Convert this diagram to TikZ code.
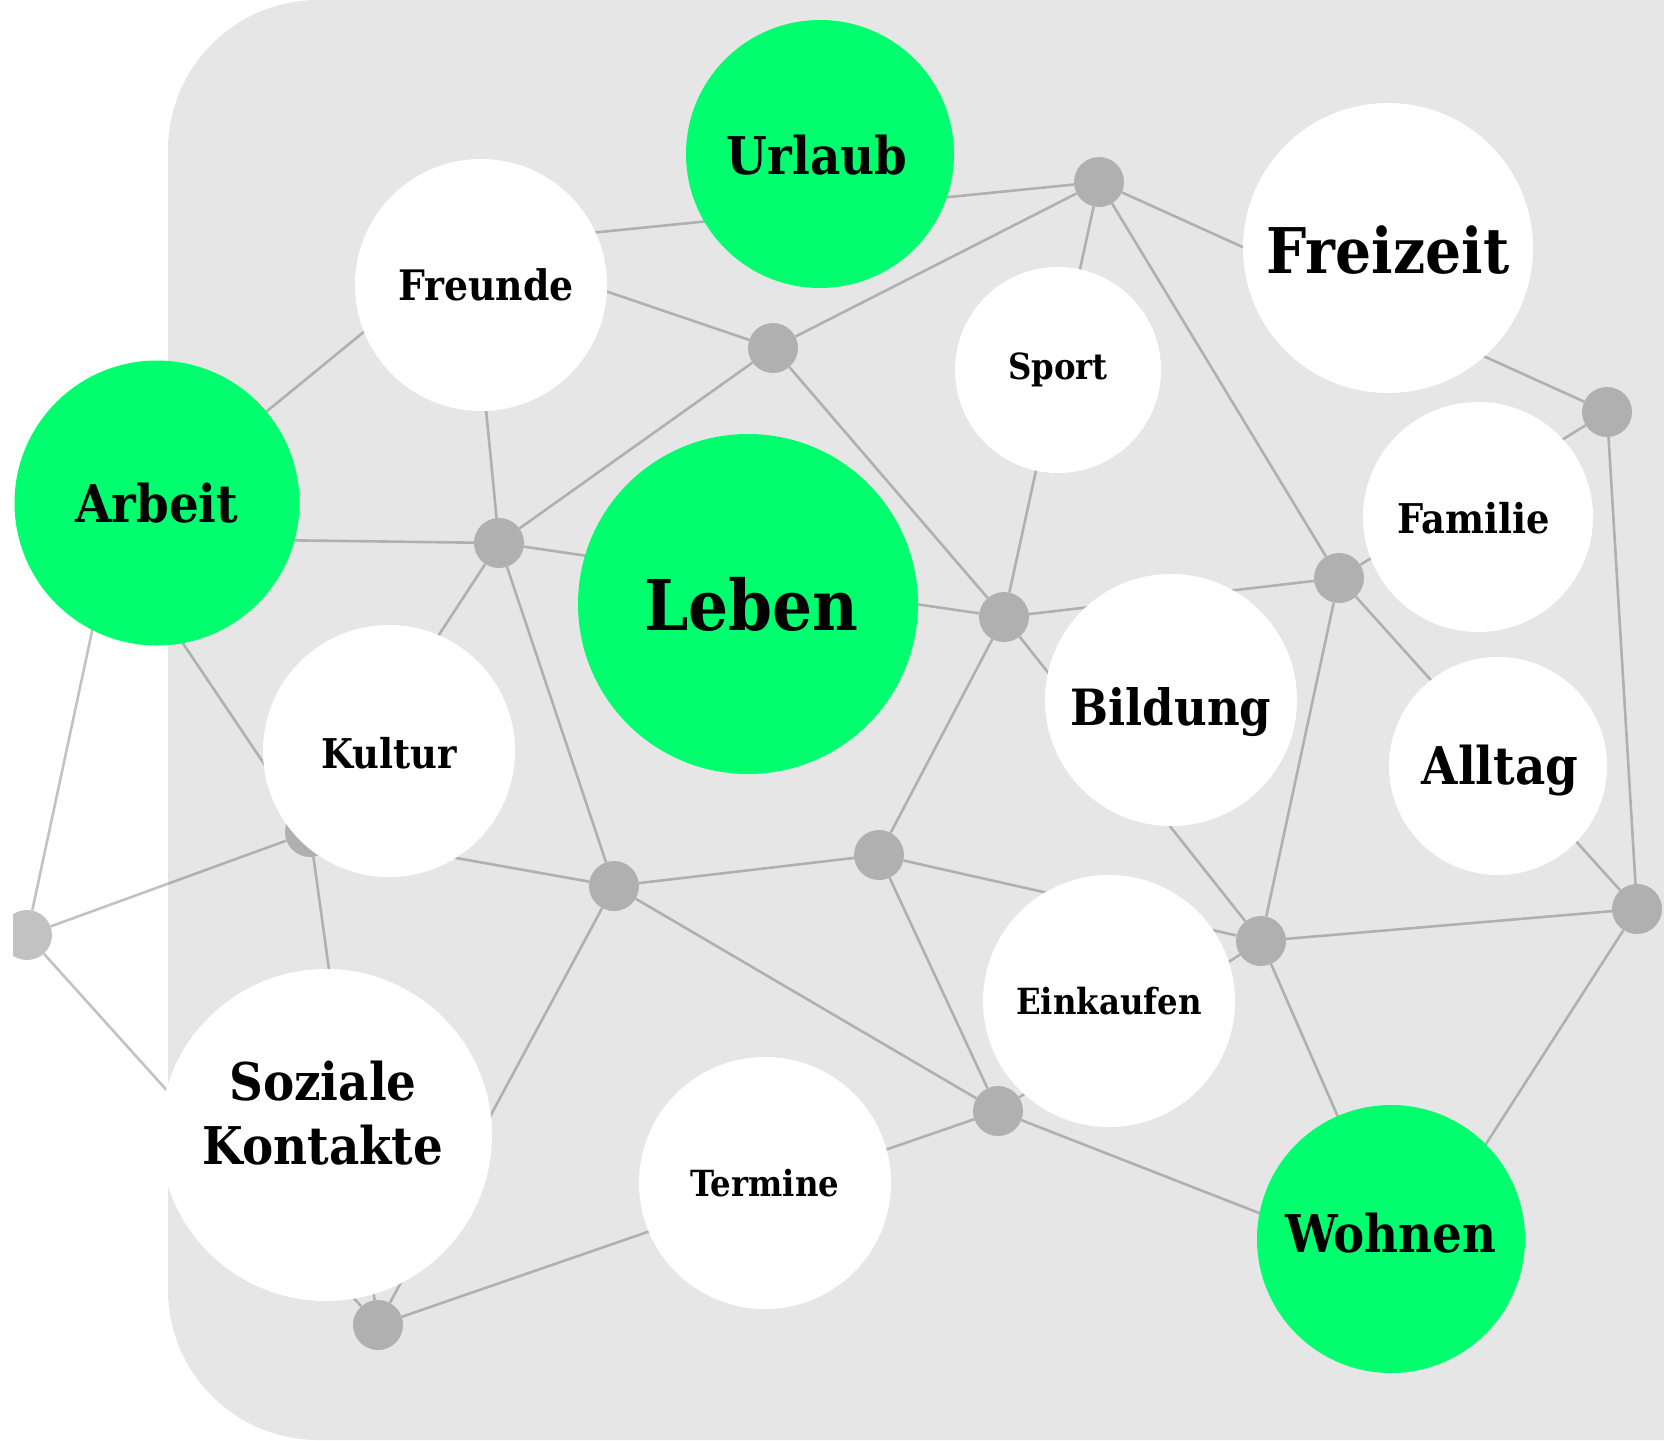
\documentclass[tikz,border=0pt]{standalone}
\usepackage{fontspec}
\setmainfont{DejaVu Serif Condensed}
\definecolor{bggray}{HTML}{E6E6E6}
\definecolor{netgray}{HTML}{B0B0B0}
\definecolor{lgreen}{HTML}{00FF6E}
\newcommand{\capbox}[2][0pt]{\raisebox{-#1}[\fontcharht\font`H][0pt]{#2}}
\begin{document}
\begin{tikzpicture}[x=1pt,y=-1pt,
  dot/.style={circle,fill=netgray,minimum size=50pt,inner sep=0pt},
  edge/.style={draw=netgray,line width=2.6pt},
  bub/.style={circle,inner sep=0pt,text=black},
  gbub/.style={bub,fill=lgreen},
  wbub/.style={bub,fill=white},
  fxl/.style={font=\fontsize{70}{78}\selectfont\bfseries},
  fl/.style={font=\fontsize{63}{70}\selectfont\bfseries},
  fm/.style={font=\fontsize{52}{64}\selectfont\bfseries},
  fs/.style={font=\fontsize{41}{48}\selectfont\bfseries},
  fxs/.style={font=\fontsize{36}{44}\selectfont\bfseries},
]
\useasboundingbox (0,0) rectangle (1664,1440);
\clip (0,0) rectangle (1664,1440);
\fill[bggray,rounded corners=150pt] (168,0) rectangle (2100,1440);

\begin{scope}
\clip (13,0) rectangle (1664,1440);
\node[dot] (d1) at (1099,182) {};
\node[dot] (d2) at (773,348) {};
\node[dot] (d3) at (499,543) {};
\node[dot] (d4) at (1004,617) {};
\node[dot] (d5) at (1339,578) {};
\node[dot] (d6) at (1607,412) {};
\node[dot] (d7) at (879,855) {};
\node[dot] (d8) at (614,886) {};
\node[dot] (d9) at (1261,941) {};
\node[dot] (d10) at (1637,909) {};
\node[dot] (d11) at (998,1111) {};
\node[dot] (d12) at (378,1325) {};
\node[dot] (d13) at (27,935) {};
\node[dot] (d14) at (310,832) {};
\coordinate (dA) at (112,538);
\coordinate (dF) at (470,245);
\coordinate (dW) at (1405,1270);

\path[edge]
  (dA) -- (dF) (dA) -- (d3) (dA) -- (d13) (dA) -- (d14)
  (dF) -- (d1) (dF) -- (d2) (dF) -- (d3)
  (d1) -- (d2) (d1) -- (d4) (d1) -- (d5) (d1) -- (d6)
  (d2) -- (d3) (d2) -- (d4)
  (d3) -- (d4) (d3) -- (d14) (d3) -- (d8)
  (d4) -- (d5) (d4) -- (d7) (d4) -- (d9)
  (d5) -- (d6) (d5) -- (d9) (d5) -- (d10)
  (d6) -- (d10)
  (d7) -- (d8) (d7) -- (d9) (d7) -- (d11)
  (d8) -- (d14) (d8) -- (d11) (d8) -- (d12)
  (d9) -- (d10) (d9) -- (d11) (d9) -- (dW)
  (d10) -- (dW)
  (d11) -- (dW) (d11) -- (d12)
  (d12) -- (d13) (d12) -- (d14)
  (d13) -- (d14);
\end{scope}

\fill[white,fill opacity=0.24,even odd rule] (0,0) rectangle (1664,1440)
  [rounded corners=150pt] (168,0) rectangle (2100,1440);

\node[gbub,minimum size=268pt,fm] (urlaub) at (820,154) {\capbox[2pt]{Urlaub}\hspace*{6pt}};
\node[wbub,minimum size=252pt,font=\fontsize{42}{48}\selectfont\bfseries] (freunde) at (481,285) {\hspace*{10pt}\capbox{Freunde}};
\node[gbub,minimum size=285pt,fm] (arbeit) at (157,503) {\capbox[1pt]{Arbeit}};
\node[wbub,minimum size=290pt,fl] (freizeit) at (1388,248) {\capbox[3pt]{Freizeit}};
\node[wbub,minimum size=206pt,fxs] (sport) at (1058,370) {\capbox[-4pt]{Sport}};
\node[gbub,minimum size=340pt,fxl] (leben) at (748,604) {\hspace*{7pt}\capbox[1pt]{Leben}};
\node[wbub,minimum size=230pt,fs] (familie) at (1478,517) {\capbox[2pt]{Familie}\hspace*{8pt}};
\node[wbub,minimum size=252pt,font=\fontsize{50}{64}\selectfont\bfseries] (bildung) at (1171,700) {\capbox[7pt]{Bildung}};
\node[wbub,minimum size=218pt,fm] (alltag) at (1498,766) {\hspace*{4pt}\capbox{Alltag}};
\node[wbub,minimum size=252pt,fs] (kultur) at (389,751) {\capbox[3pt]{Kultur}};
\node[wbub,minimum size=252pt,fxs] (einkaufen) at (1109,1001) {\capbox{Einkaufen}};
\node[wbub,minimum size=332pt] (soziale) at (326,1135) {};
\node[fm,align=center,inner sep=0pt] (sozialet) at (323,1113) {Soziale\\\capbox{Kontakte}};
\node[wbub,minimum size=252pt,fxs] (termine) at (765,1183) {\capbox{Termine}};
\node[gbub,minimum size=268pt,fm] (wohnen) at (1391,1239) {\capbox[-5pt]{Wohnen}};
\end{tikzpicture}
\end{document}
